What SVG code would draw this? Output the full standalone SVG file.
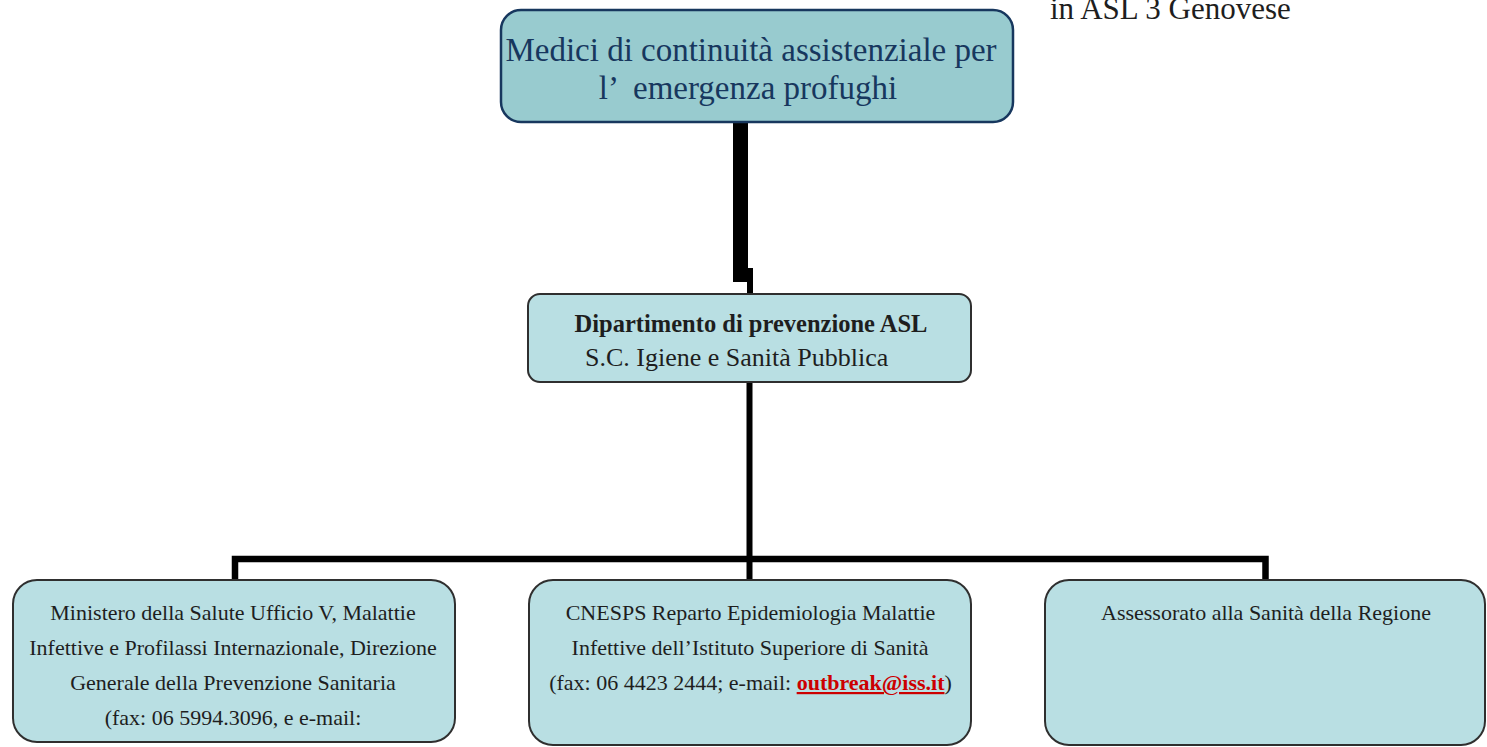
<svg xmlns="http://www.w3.org/2000/svg" width="1487" height="747" viewBox="0 0 1487 747">
<style>
.top{fill:#98CBCF;stroke:#17375E;stroke-width:2.5}
.box{fill:#B9DFE3;stroke:#2F2F2F;stroke-width:2}
.t{font-family:"Liberation Serif","Times New Roman",serif;fill:#1E1E1E}
.tt{font-family:"Liberation Serif","Times New Roman",serif;fill:#17375E;font-size:33px}
.s{font-size:22px}
.c{text-anchor:middle}
.ln{fill:none;stroke:#000;stroke-linejoin:miter}
</style>
<rect width="1487" height="747" fill="#FFFFFF"/>
<text class="t" x="1050" y="19" font-size="31">in ASL 3 Genovese</text>
<g id="connectors">
<path d="M733,122 H748 V268 H753 V294 H747 V282 H733 Z" fill="#000"/>
<path class="ln" d="M749.5,382 V580" stroke-width="6"/>
<path class="ln" d="M235,580 V559 H1265.5 V580" stroke-width="6.5"/>
</g>
<g id="node-medici">
<rect class="top" x="501" y="10" width="512" height="112" rx="20"/>
<text class="tt c" x="751" y="61">Medici di continuità assistenziale per</text>
<text class="tt c" x="748" y="99" xml:space="preserve">l’  emergenza profughi</text>
</g>
<g id="node-dipartimento">
<rect class="box" x="528" y="294" width="443" height="88" rx="12"/>
<text class="t c" x="751" y="332" font-size="24.5" font-weight="bold">Dipartimento di prevenzione ASL</text>
<text class="t" x="585" y="366" font-size="26">S.C. Igiene e Sanità Pubblica</text>
</g>
<g id="node-ministero">
<rect class="box" x="13" y="580" width="442" height="162" rx="24"/>
<text class="t s c" x="233" y="620">Ministero della Salute Ufficio V, Malattie</text>
<text class="t s c" x="233" y="655">Infettive e Profilassi Internazionale, Direzione</text>
<text class="t s c" x="233" y="690">Generale della Prevenzione Sanitaria</text>
<text class="t s c" x="233" y="725">(fax: 06 5994.3096, e e-mail:</text>
</g>
<g id="node-cnesps">
<rect class="box" x="529" y="580" width="442" height="165" rx="24"/>
<text class="t s c" x="750.5" y="620">CNESPS Reparto Epidemiologia Malattie</text>
<text class="t s c" x="750" y="655">Infettive dell’Istituto Superiore di Sanità</text>
<text class="t s c" x="750.5" y="690">(fax: 06 4423 2444; e-mail: <tspan fill="#CC0000" font-weight="bold" text-decoration="underline">outbreak@iss.it</tspan>)</text>
</g>
<g id="node-assessorato">
<rect class="box" x="1045" y="580" width="440" height="165" rx="24"/>
<text class="t s c" x="1266" y="620">Assessorato alla Sanità della Regione</text>
</g>
</svg>
